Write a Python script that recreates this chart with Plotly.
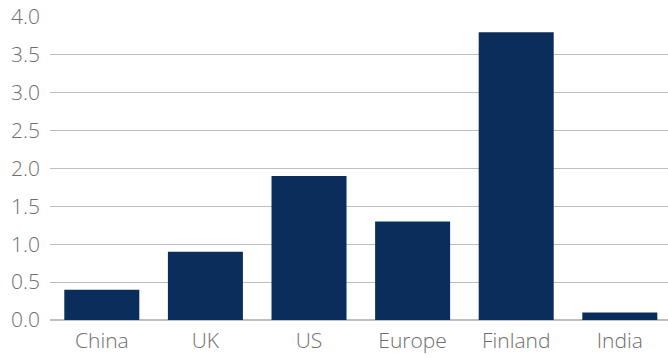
import plotly.graph_objects as go

# Values per region
categories = ["China", "UK", "US", "Europe", "Finland", "India"]
values = [0.4, 0.9, 1.9, 1.3, 3.8, 0.1]
y_ticks = [0.0, 0.5, 1.0, 1.5, 2.0, 2.5, 3.0, 3.5, 4.0]

BAR_COLOR = "#0b2d5b"
TEXT_COLOR = "#6e6e6e"
GRID_COLOR = "#bdbdbd"
LABEL_FONT = dict(family="'Open Sans', sans-serif", size=21, color=TEXT_COLOR, weight=300)

fig = go.Figure(
    go.Bar(
        x=categories,
        y=values,
        marker=dict(color=BAR_COLOR, line=dict(width=0)),
    )
)

fig.update_layout(
    width=668,
    height=358,
    margin=dict(l=50, r=0, t=17, b=38, autoexpand=False),
    paper_bgcolor="white",
    plot_bgcolor="white",
    bargap=0.276,
    showlegend=False,
    font=LABEL_FONT,
)

# the last category is slightly clipped by the right edge of the canvas
fig.update_xaxes(
    range=[-0.5, 5.465],
    showgrid=False,
    showline=False,
    ticks="",
    ticklabelstandoff=6,
    tickfont=LABEL_FONT,
)

fig.update_yaxes(
    range=[0, 4.0],
    tickvals=y_ticks,
    ticktext=[f"{v:.1f}" for v in y_ticks],
    showgrid=True,
    gridcolor=GRID_COLOR,
    gridwidth=1,
    zeroline=True,
    zerolinecolor=GRID_COLOR,
    zerolinewidth=1.5,
    showline=False,
    ticks="",
    ticklabelstandoff=9,
    tickfont=LABEL_FONT,
)

fig.write_html("out.html")
